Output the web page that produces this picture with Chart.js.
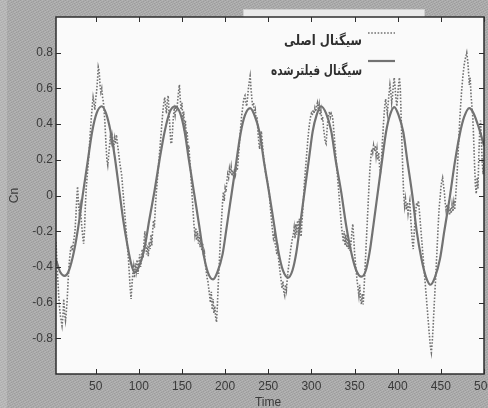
<!DOCTYPE html>
<html>
<head>
<meta charset="utf-8">
<script src="https://cdn.jsdelivr.net/npm/chart.js@4.4.1/dist/chart.umd.min.js"></script>
<style>
  html, body { margin: 0; padding: 0; background: #a9a9a9; }
  canvas { display: block; }
</style>
</head>
<body>
<canvas id="chart" width="488" height="408"></canvas>
<script>
// Filtered signal: sample time and Cn value
const filteredTime = [4, 9, 14, 19, 25, 30, 35.5, 41, 46, 51, 57, 62, 67, 72, 77, 82, 87, 91, 95, 100,
  106.75, 112, 118.5, 124, 130, 136, 142, 148, 153, 158, 164, 170, 175, 180, 186, 191, 197, 202, 207.5, 213,
  218, 223, 229, 234, 240, 245, 251, 257, 262, 267, 273, 278, 282.5, 287, 292, 297, 301.5, 306, 311, 317,
  323, 328, 334.5, 340, 346, 352, 358, 363, 367.5, 372, 377, 382, 386.5, 391, 396, 401, 406.5, 411, 417, 422,
  427.5, 433, 438, 443, 449, 454, 460.5, 466, 472, 477, 483, 488, 494, 500];
const filteredCn = [-0.36, -0.43, -0.45, -0.42, -0.31, -0.17, 0.02, 0.2, 0.36, 0.46, 0.5, 0.46, 0.365, 0.22, 0.04, -0.14, -0.285, -0.38, -0.43, -0.4,
  -0.29, -0.14, 0.035, 0.2, 0.36, 0.47, 0.5, 0.46, 0.36, 0.2, 0.015, -0.17, -0.33, -0.43, -0.47, -0.43, -0.33, -0.17, 0.01, 0.19,
  0.35, 0.45, 0.49, 0.45, 0.35, 0.19, 0.015, -0.17, -0.32, -0.42, -0.46, -0.42, -0.32, -0.16, 0.02, 0.2, 0.36, 0.45, 0.5, 0.46,
  0.36, 0.2, 0.02, -0.16, -0.315, -0.42, -0.455, -0.42, -0.316, -0.16, 0.02, 0.2, 0.356, 0.45, 0.495, 0.45, 0.354, 0.2, 0.0, -0.2,
  -0.354, -0.46, -0.5, -0.46, -0.355, -0.2, -0.005, 0.18, 0.345, 0.44, 0.49, 0.46, 0.38, 0.28];

// Original signal: one sample per time step, starting at t = 4
const originalStart = 4;
const originalCn = [
  -0.26, -0.36, -0.46, -0.55, -0.62, -0.67, -0.70, -0.73, -0.68, -0.58, -0.66, -0.70, -0.65, -0.58, -0.48, -0.40, // 4-19
  -0.34, -0.30, -0.28, -0.31, -0.27, -0.24, -0.20, -0.12, -0.02, 0.05, -0.04, -0.10, -0.06, -0.12, -0.18, -0.23, -0.27, -0.20, -0.06, 0.04, // 20-39
  0.10, 0.16, 0.22, 0.30, 0.37, 0.44, 0.50, 0.55, 0.52, 0.48, 0.54, 0.58, 0.64, 0.72, 0.70, 0.62, 0.58, 0.60, 0.55, 0.52, // 40-59
  0.46, 0.38, 0.28, 0.20, 0.17, 0.22, 0.28, 0.33, 0.30, 0.34, 0.31, 0.27, 0.32, 0.29, 0.34, 0.30, 0.26, 0.22, 0.18, 0.15, // 60-79
  0.12, 0.06, 0.00, -0.06, -0.12, -0.18, -0.24, -0.30, -0.36, -0.44, -0.52, -0.58, -0.50, -0.44, -0.40, -0.46, -0.38, -0.42, -0.36, -0.44, // 80-99
  -0.38, -0.33, -0.40, -0.36, -0.30, -0.35, -0.26, -0.20, -0.27, -0.33, -0.28, -0.34, -0.26, -0.30, -0.22, -0.28, -0.20, -0.14, -0.18, -0.08, // 100-119
  0.00, 0.06, 0.12, 0.18, 0.24, 0.30, 0.36, 0.42, 0.48, 0.52, 0.55, 0.50, 0.46, 0.53, 0.56, 0.46, 0.38, 0.30, 0.29, 0.36, // 120-139
  0.44, 0.48, 0.45, 0.50, 0.47, 0.53, 0.58, 0.62, 0.54, 0.48, 0.52, 0.42, 0.47, 0.36, 0.42, 0.32, 0.36, 0.26, 0.28, 0.20, // 140-159
  0.14, 0.06, -0.02, -0.10, -0.17, -0.22, -0.18, -0.25, -0.20, -0.27, -0.22, -0.29, -0.24, -0.31, -0.27, -0.34, -0.32, -0.38, -0.42, -0.46, // 160-179
  -0.48, -0.52, -0.56, -0.60, -0.54, -0.64, -0.58, -0.66, -0.62, -0.68, -0.71, -0.62, -0.50, -0.40, -0.30, -0.20, -0.12, -0.04, 0.02, -0.03, // 180-199
  0.04, 0.02, 0.08, 0.12, 0.10, 0.15, 0.12, 0.16, 0.11, 0.14, 0.10, 0.15, 0.12, 0.16, 0.14, 0.19, 0.26, 0.32, 0.38, 0.44, // 200-219
  0.48, 0.52, 0.55, 0.56, 0.52, 0.50, 0.55, 0.60, 0.64, 0.67, 0.60, 0.54, 0.50, 0.52, 0.46, 0.48, 0.42, 0.44, 0.36, 0.30, // 220-239
  0.26, 0.32, 0.36, 0.30, 0.24, 0.20, 0.16, 0.12, 0.10, 0.08, 0.05, 0.02, -0.04, -0.10, -0.15, -0.20, -0.24, -0.22, -0.27, -0.30, // 240-259
  -0.33, -0.30, -0.36, -0.40, -0.44, -0.48, -0.52, -0.48, -0.54, -0.56, -0.50, -0.53, -0.47, -0.42, -0.38, -0.34, -0.30, -0.27, -0.24, -0.22, // 260-279
  -0.18, -0.24, -0.16, -0.22, -0.14, -0.20, -0.13, -0.18, -0.23, -0.15, -0.08, 0.00, 0.08, 0.14, 0.20, 0.26, 0.32, 0.37, 0.41, 0.44, // 280-299
  0.46, 0.45, 0.48, 0.46, 0.49, 0.47, 0.50, 0.52, 0.48, 0.51, 0.45, 0.48, 0.42, 0.44, 0.38, 0.34, 0.30, 0.29, 0.36, 0.42, // 300-319
  0.45, 0.47, 0.44, 0.46, 0.45, 0.42, 0.36, 0.30, 0.24, 0.18, 0.12, 0.06, 0.00, -0.06, -0.12, -0.18, -0.22, -0.26, -0.20, -0.28, // 320-339
  -0.22, -0.29, -0.24, -0.30, -0.25, -0.31, -0.26, -0.20, -0.16, -0.24, -0.32, -0.38, -0.43, -0.48, -0.52, -0.56, -0.50, -0.58, -0.61, -0.55, // 340-359
  -0.61, -0.52, -0.42, -0.32, -0.22, -0.12, -0.02, 0.08, 0.16, 0.22, 0.26, 0.24, 0.28, 0.25, 0.28, 0.22, 0.26, 0.20, 0.24, 0.16, // 360-379
  0.13, 0.18, 0.28, 0.36, 0.44, 0.50, 0.54, 0.50, 0.46, 0.52, 0.57, 0.62, 0.58, 0.52, 0.56, 0.62, 0.66, 0.60, 0.54, 0.50, // 380-399
  0.56, 0.62, 0.66, 0.60, 0.44, 0.28, 0.12, 0.00, -0.06, -0.02, -0.08, -0.04, -0.10, -0.06, -0.03, -0.12, -0.20, -0.26, -0.30, -0.22, // 400-419
  -0.14, -0.08, -0.04, -0.06, -0.03, -0.08, -0.14, -0.20, -0.26, -0.32, -0.38, -0.44, -0.50, -0.56, -0.62, -0.68, -0.74, -0.80, -0.85, -0.88, // 420-439
  -0.82, -0.74, -0.64, -0.55, -0.46, -0.36, -0.26, -0.16, -0.07, -0.02, 0.04, 0.08, 0.10, 0.06, 0.02, -0.04, -0.08, -0.05, -0.10, -0.06, // 440-459
  -0.11, -0.07, -0.10, -0.05, -0.09, -0.04, -0.08, -0.02, 0.06, 0.14, 0.24, 0.34, 0.43, 0.51, 0.58, 0.64, 0.69, 0.73, 0.76, 0.78, // 460-479
  0.80, 0.76, 0.70, 0.62, 0.66, 0.56, 0.50, 0.44, 0.32, 0.18, 0.06, 0.01, 0.10, 0.04, 0.22, 0.36, 0.42, 0.30, 0.18, 0.12, // 480-499
  0.20 // 500
];

const xTickValues = [50, 100, 150, 200, 250, 300, 350, 400, 450, 500];
const yTickValues = [-0.8, -0.6, -0.4, -0.2, 0, 0.2, 0.4, 0.6, 0.8];
const legendLabels = ['سیگنال اصلی', 'سیگنال فیلترشده'];

const lineGray = '#727272';

const originalPoints = originalCn.map((v, i) => ({ x: originalStart + i, y: v }));
const filteredPoints = filteredTime.map((t, i) => ({ x: t, y: filteredCn[i] }));

// Halftone-like texture for the figure background
function makeGrayPattern(ctx) {
  const c = document.createElement('canvas');
  c.width = 5; c.height = 5;
  const p = c.getContext('2d');
  p.fillStyle = '#aaaaaa';
  p.fillRect(0, 0, 5, 5);
  p.fillStyle = '#9c9c9c';
  [[0, 0], [3, 1], [1, 2], [4, 3], [2, 4]].forEach(([x, y]) => p.fillRect(x, y, 1, 1));
  p.fillStyle = '#b6b6b6';
  [[2, 0], [0, 1], [4, 2], [1, 3], [3, 4]].forEach(([x, y]) => p.fillRect(x, y, 1, 1));
  return ctx.createPattern(c, 'repeat');
}

const figurePlugin = {
  id: 'figure',
  beforeDraw(chart) {
    const { ctx, chartArea: a, width, height } = chart;
    ctx.save();
    ctx.fillStyle = makeGrayPattern(ctx);
    ctx.fillRect(0, 0, width, height);
    ctx.fillStyle = 'rgba(255,255,255,0.16)';
    ctx.fillRect(0, 0, 7, height);
    // light strip above the legend
    ctx.fillStyle = '#e9e9e9';
    ctx.fillRect(243, 9, 182, a.top - 9);
    ctx.strokeStyle = '#cfcfcf';
    ctx.lineWidth = 1;
    ctx.strokeRect(243.5, 9.5, 181, a.top - 9);
    ctx.fillStyle = '#fafafa';
    ctx.fillRect(a.left, a.top, a.right - a.left, a.bottom - a.top);
    ctx.restore();
  },
  afterDraw(chart) {
    const { ctx, chartArea: a, scales } = chart;
    const xs = scales.x, ys = scales.y;
    ctx.save();
    // axes box
    ctx.strokeStyle = '#2e2e2e';
    ctx.lineWidth = 1.5;
    ctx.strokeRect(a.left, a.top, a.right - a.left, a.bottom - a.top);
    // inward tick marks on all four sides
    ctx.lineWidth = 1;
    ctx.beginPath();
    xTickValues.forEach(v => {
      const px = Math.round(xs.getPixelForValue(v)) + 0.5;
      ctx.moveTo(px, a.bottom); ctx.lineTo(px, a.bottom - 5);
      ctx.moveTo(px, a.top); ctx.lineTo(px, a.top + 5);
    });
    yTickValues.forEach(v => {
      const py = Math.round(ys.getPixelForValue(v)) + 0.5;
      ctx.moveTo(a.left, py); ctx.lineTo(a.left + 5, py);
      ctx.moveTo(a.right, py); ctx.lineTo(a.right - 5, py);
    });
    ctx.stroke();

    // axis titles
    ctx.fillStyle = '#3a3a3a';
    ctx.font = '12px "Liberation Sans", Arial, sans-serif';
    ctx.textAlign = 'center';
    ctx.textBaseline = 'middle';
    ctx.fillText('Time', (a.left + a.right) / 2 - 2, 403);
    ctx.translate(15, (a.top + a.bottom) / 2);
    ctx.rotate(-Math.PI / 2);
    ctx.fillText('Cn', 0, 0);
    ctx.setTransform(1, 0, 0, 1, 0, 0);

    // legend (right-to-left: sample line on the right of each label)
    const ds = chart.data.datasets;
    const rows = [
      { text: legendLabels[0], ty: 41, ly: 33, w: 78 },
      { text: legendLabels[1], ty: 71, ly: 61, w: 91 }
    ];
    rows.forEach((r, i) => {
      ctx.save();
      ctx.fillStyle = '#2f2f2f';
      ctx.font = 'bold 14px "DejaVu Sans", sans-serif';
      ctx.textAlign = 'right';
      ctx.textBaseline = 'middle';
      const natural = ctx.measureText(r.text).width;
      const sx = Math.min(1, r.w / natural);
      ctx.translate(362, r.ty);
      ctx.scale(sx, 1);
      ctx.fillText(r.text, 0, 0);
      ctx.restore();
      ctx.beginPath();
      ctx.strokeStyle = ds[i].borderColor;
      ctx.lineWidth = ds[i].borderWidth;
      ctx.setLineDash(ds[i].borderDash || []);
      ctx.moveTo(368, r.ly); ctx.lineTo(395, r.ly);
      ctx.stroke();
      ctx.setLineDash([]);
    });
    ctx.restore();
  }
};

new Chart(document.getElementById('chart'), {
  type: 'line',
  data: {
    datasets: [
      {
        label: legendLabels[0],
        data: originalPoints,
        borderColor: lineGray,
        borderWidth: 1.6,
        borderDash: [1.6, 1.6],
        pointRadius: 0,
        tension: 0,
        fill: false
      },
      {
        label: legendLabels[1],
        data: filteredPoints,
        borderColor: lineGray,
        borderWidth: 2.2,
        pointRadius: 0,
        cubicInterpolationMode: 'monotone',
        fill: false
      }
    ]
  },
  options: {
    responsive: false,
    animation: false,
    devicePixelRatio: 1,
    layout: { padding: { top: 17, right: 4, left: 0, bottom: 0 } },
    plugins: { legend: { display: false }, tooltip: { enabled: false } },
    scales: {
      x: {
        type: 'linear',
        min: 4,
        max: 500,
        grid: { display: false, drawTicks: false },
        border: { display: false },
        afterBuildTicks(s) { s.ticks = xTickValues.map(v => ({ value: v })); },
        afterFit(s) { s.height = 34; s.paddingLeft = 0; s.paddingRight = 0; },
        ticks: {
          autoSkip: false,
          maxRotation: 0,
          padding: 5,
          color: '#3a3a3a',
          font: { family: '"Liberation Sans", Arial, sans-serif', size: 12 }
        }
      },
      y: {
        type: 'linear',
        min: -1,
        max: 1,
        grid: { display: false, drawTicks: false },
        border: { display: false },
        afterBuildTicks(s) { s.ticks = yTickValues.map(v => ({ value: v })); },
        afterFit(s) { s.width = 56; s.paddingTop = 0; s.paddingBottom = 0; },
        ticks: {
          padding: 3,
          color: '#3a3a3a',
          font: { family: '"Liberation Sans", Arial, sans-serif', size: 12 },
          callback: v => (v === 0 ? '0' : String(Math.round(v * 10) / 10))
        }
      }
    }
  },
  plugins: [figurePlugin]
});
</script>
</body>
</html>
